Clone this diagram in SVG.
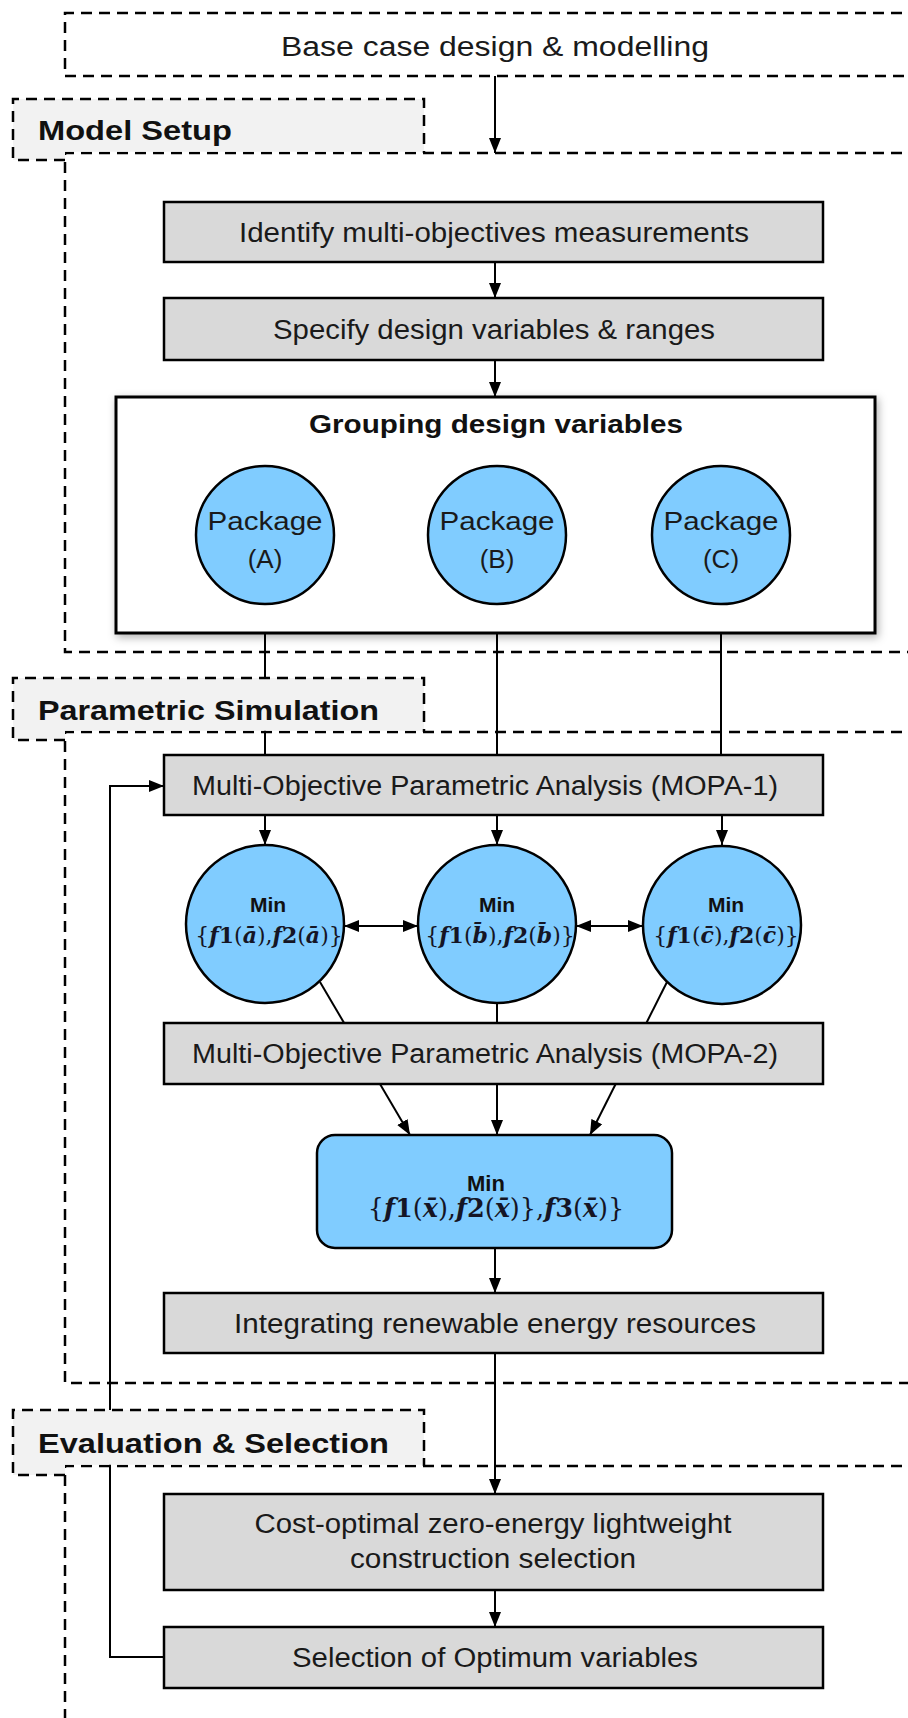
<svg xmlns="http://www.w3.org/2000/svg" width="908" height="1718" viewBox="0 0 908 1718">
<style>
.dash{fill:none;stroke:#000;stroke-width:2.5;stroke-dasharray:11 7}
.tabfill{fill:#f2f2f2;stroke:none}
.box{fill:#d9d9d9;stroke:#000;stroke-width:2.5}
.blue{fill:#80ccff;stroke:#000;stroke-width:2.5}
.con{fill:none;stroke:#000;stroke-width:2}
.t{font-family:"Liberation Sans",Arial,sans-serif;font-size:27px;fill:#1a1a1a;text-anchor:middle}
.tb{font-family:"Liberation Sans",Arial,sans-serif;font-size:28px;font-weight:bold;fill:#111}
.tm{font-family:"Liberation Sans",Arial,sans-serif;font-size:21px;font-weight:bold;fill:#111;text-anchor:middle}
.fm{font-family:"DejaVu Serif","Liberation Serif",serif;font-size:22px;fill:#151525;text-anchor:middle}
.bi{font-weight:bold;font-style:italic}
.b{font-weight:bold}
</style>
<defs>
<marker id="ah" viewBox="0 0 15 12" refX="15" refY="6" markerWidth="15" markerHeight="12" orient="auto-start-reverse" markerUnits="userSpaceOnUse">
<path d="M0,0 L15,6 L0,12 z" fill="#000"/>
</marker>
<filter id="sh" x="-5%" y="-8%" width="112%" height="120%">
<feDropShadow dx="2" dy="3" stdDeviation="4" flood-color="#000" flood-opacity="0.3"/>
</filter>
</defs>
<rect x="0" y="0" width="908" height="1718" fill="#fff"/>

<g id="sections">
<path class="dash" d="M 920 13 H 65 V 76 H 920"/>
<path class="dash" d="M 920 153 H 65 V 652 H 920"/>
<path class="dash" d="M 920 732 H 65 V 1383 H 920"/>
<path class="dash" d="M 920 1466 H 65 V 1730"/>
</g>

<g id="connectors">
<line class="con" x1="495" y1="76" x2="495" y2="153" marker-end="url(#ah)"/>
<line class="con" x1="495" y1="262" x2="495" y2="298" marker-end="url(#ah)"/>
<line class="con" x1="495" y1="360" x2="495" y2="397" marker-end="url(#ah)"/>
<line class="con" x1="265" y1="604" x2="265" y2="755"/>
<line class="con" x1="497" y1="604" x2="497" y2="755"/>
<line class="con" x1="721" y1="604" x2="721" y2="755"/>
<line class="con" x1="265" y1="815" x2="265" y2="845" marker-end="url(#ah)"/>
<line class="con" x1="497" y1="815" x2="497" y2="845" marker-end="url(#ah)"/>
<line class="con" x1="722" y1="815" x2="722" y2="845" marker-end="url(#ah)"/>
<line class="con" x1="344" y1="926" x2="418" y2="926" marker-start="url(#ah)" marker-end="url(#ah)"/>
<line class="con" x1="576" y1="926" x2="643" y2="926" marker-start="url(#ah)" marker-end="url(#ah)"/>
<line class="con" x1="320" y1="982" x2="410" y2="1135" marker-end="url(#ah)"/>
<line class="con" x1="497" y1="1003" x2="497" y2="1135" marker-end="url(#ah)"/>
<line class="con" x1="667" y1="982" x2="590" y2="1135" marker-end="url(#ah)"/>
<line class="con" x1="495" y1="1248" x2="495" y2="1293" marker-end="url(#ah)"/>
<line class="con" x1="495" y1="1353" x2="495" y2="1494" marker-end="url(#ah)"/>
<line class="con" x1="495" y1="1590" x2="495" y2="1627" marker-end="url(#ah)"/>
<path class="con" d="M 164 1657 H 110 V 786 H 164" marker-end="url(#ah)"/>
</g>

<g id="base-case">
<text class="t" x="495" y="56" textLength="428" lengthAdjust="spacingAndGlyphs">Base case design &amp; modelling</text>
</g>

<g id="tab-model-setup">
<path class="tabfill" d="M13 99 H424 V151.7 H65 V160 H13 Z"/>
<path class="dash" d="M65 160 H13 V99 H424 V153"/>
<text class="tb" x="38" y="140" textLength="194" lengthAdjust="spacingAndGlyphs">Model Setup</text>
</g>

<g id="tab-parametric">
<path class="tabfill" d="M13 678 H424 V730.7 H65 V740 H13 Z"/>
<path class="dash" d="M65 740 H13 V678 H424 V732"/>
<text class="tb" x="38" y="720" textLength="341" lengthAdjust="spacingAndGlyphs">Parametric Simulation</text>
</g>

<g id="tab-evaluation">
<path class="tabfill" d="M13 1410 H424 V1464.7 H65 V1475 H13 Z"/>
<path class="dash" d="M65 1475 H13 V1410 H424 V1466"/>
<text class="tb" x="38" y="1453" textLength="351" lengthAdjust="spacingAndGlyphs">Evaluation &amp; Selection</text>
</g>

<g id="identify">
<rect class="box" x="164" y="202" width="659" height="60"/>
<text class="t" x="494" y="242" textLength="510" lengthAdjust="spacingAndGlyphs">Identify multi-objectives measurements</text>
</g>

<g id="specify">
<rect class="box" x="164" y="298" width="659" height="62"/>
<text class="t" x="494" y="339" textLength="442" lengthAdjust="spacingAndGlyphs">Specify design variables &amp; ranges</text>
</g>

<g id="grouping">
<rect x="116" y="397" width="759" height="236" fill="#fff" stroke="#000" stroke-width="3" filter="url(#sh)"/>
<text class="tb" x="496" y="433" text-anchor="middle" style="font-size:25px" textLength="374" lengthAdjust="spacingAndGlyphs">Grouping design variables</text>
</g>

<g id="package-a">
<circle class="blue" cx="265" cy="535" r="69"/>
<text class="t" x="265" y="530" style="font-size:26px" textLength="115" lengthAdjust="spacingAndGlyphs">Package</text>
<text class="t" x="265" y="568" style="font-size:26px">(A)</text>
</g>
<g id="package-b">
<circle class="blue" cx="497" cy="535" r="69"/>
<text class="t" x="497" y="530" style="font-size:26px" textLength="115" lengthAdjust="spacingAndGlyphs">Package</text>
<text class="t" x="497" y="568" style="font-size:26px">(B)</text>
</g>
<g id="package-c">
<circle class="blue" cx="721" cy="535" r="69"/>
<text class="t" x="721" y="530" style="font-size:26px" textLength="115" lengthAdjust="spacingAndGlyphs">Package</text>
<text class="t" x="721" y="568" style="font-size:26px">(C)</text>
</g>

<g id="mopa-1">
<rect class="box" x="164" y="755" width="659" height="60"/>
<text class="t" x="485" y="795" textLength="586" lengthAdjust="spacingAndGlyphs">Multi-Objective Parametric Analysis (MOPA-1)</text>
</g>

<g id="min-a">
<circle class="blue" cx="265" cy="924" r="79"/>
<text class="tm" x="268" y="912">Min</text>
<text class="fm" x="269" y="943">{<tspan class="bi">f</tspan><tspan class="b">1</tspan>(<tspan class="bi">a&#772;</tspan>),<tspan class="bi">f</tspan><tspan class="b">2</tspan>(<tspan class="bi">a&#772;</tspan>)}</text>
</g>
<g id="min-b">
<circle class="blue" cx="497" cy="924" r="79"/>
<text class="tm" x="497" y="912">Min</text>
<text class="fm" x="500" y="943">{<tspan class="bi">f</tspan><tspan class="b">1</tspan>(<tspan class="bi">b&#772;</tspan>),<tspan class="bi">f</tspan><tspan class="b">2</tspan>(<tspan class="bi">b&#772;</tspan>)}</text>
</g>
<g id="min-c">
<circle class="blue" cx="722" cy="925" r="79"/>
<text class="tm" x="726" y="912">Min</text>
<text class="fm" x="726" y="943">{<tspan class="bi">f</tspan><tspan class="b">1</tspan>(<tspan class="bi">c&#772;</tspan>),<tspan class="bi">f</tspan><tspan class="b">2</tspan>(<tspan class="bi">c&#772;</tspan>)}</text>
</g>

<g id="mopa-2">
<rect class="box" x="164" y="1023" width="659" height="61"/>
<text class="t" x="485" y="1063" textLength="586" lengthAdjust="spacingAndGlyphs">Multi-Objective Parametric Analysis (MOPA-2)</text>
</g>

<g id="min-x">
<rect class="blue" x="317" y="1135" width="355" height="113" rx="18" ry="18"/>
<text class="tm" x="486" y="1191" style="font-size:22px">Min</text>
<text class="fm" x="496" y="1217" style="font-size:25.5px">{<tspan class="bi">f</tspan><tspan class="b">1</tspan>(<tspan class="bi">x&#772;</tspan>),<tspan class="bi">f</tspan><tspan class="b">2</tspan>(<tspan class="bi">x&#772;</tspan>)},<tspan class="bi">f</tspan><tspan class="b">3</tspan>(<tspan class="bi">x&#772;</tspan>)}</text>
</g>

<g id="integrating">
<rect class="box" x="164" y="1293" width="659" height="60"/>
<text class="t" x="495" y="1333" textLength="522" lengthAdjust="spacingAndGlyphs">Integrating renewable energy resources</text>
</g>

<g id="cost-optimal">
<rect class="box" x="164" y="1494" width="659" height="96"/>
<text class="t" x="493" y="1533" textLength="477" lengthAdjust="spacingAndGlyphs">Cost-optimal zero-energy lightweight</text>
<text class="t" x="493" y="1568" textLength="286" lengthAdjust="spacingAndGlyphs">construction selection</text>
</g>

<g id="selection">
<rect class="box" x="164" y="1627" width="659" height="61"/>
<text class="t" x="495" y="1667" textLength="406" lengthAdjust="spacingAndGlyphs">Selection of Optimum variables</text>
</g>
</svg>
